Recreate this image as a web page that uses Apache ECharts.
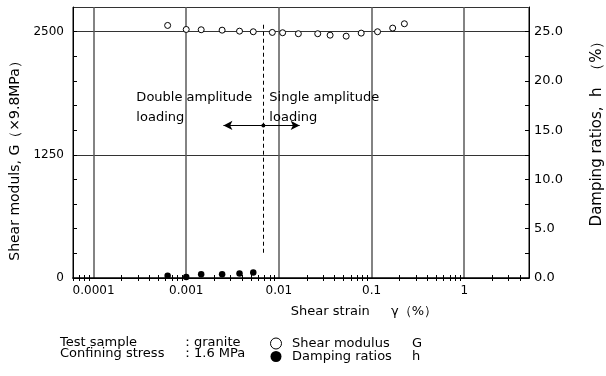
<!DOCTYPE html>
<html><head><meta charset="utf-8">
<script src="https://cdn.jsdelivr.net/npm/echarts@6/dist/echarts.min.js"></script>
<style>html,body{margin:0;padding:0;background:#fff}#c{width:606px;height:376px}</style>
</head><body><div id="c"></div>
<script>
// ---- data ----
const strain = [0.00063, 0.0010, 0.00145, 0.00244, 0.00376, 0.00529, 0.00849, 0.01097, 0.01622, 0.02624, 0.0357, 0.0532, 0.0773, 0.116, 0.169, 0.226];
const shearModulus = [2563, 2522, 2519, 2515, 2505, 2499, 2492, 2489, 2479, 2479, 2464, 2454, 2485, 2499, 2536, 2580];
const dampingStrain = [0.00063, 0.0010, 0.00145, 0.00244, 0.00376, 0.00529];
const dampingRatio = [0.24, 0.10, 0.38, 0.38, 0.45, 0.55];
const xLabelValues = [0.0001, 0.001, 0.01, 0.1, 1];
const xMinorTicks = [0.00006, 0.00007, 0.00008, 0.00009,
  0.0002, 0.0003, 0.0004, 0.0005, 0.0006, 0.0007, 0.0008, 0.0009,
  0.002, 0.003, 0.004, 0.005, 0.006, 0.007, 0.008, 0.009,
  0.02, 0.03, 0.04, 0.05, 0.06, 0.07, 0.08, 0.09,
  0.2, 0.3, 0.4, 0.5, 0.6, 0.7, 0.8, 0.9,
  2, 3, 4];
const gTickValues = [250, 500, 750, 1000, 1250, 1500, 1750, 2000, 2250, 2500];
const gLabelValues = [0, 1250, 2500];
const hTickValues = [2.5, 5, 7.5, 10, 12.5, 15, 17.5, 20, 22.5, 25];
const hLabelValues = [0, 5, 10, 15, 20, 25];
const boundaryStrain = 0.0068;
const boundaryRange = [234, 2570];
const arrowRange = [0.00252, 0.01675];
const arrowLevel = 1548;
const noteLevel = 1733;

const FONT = '"DejaVu Sans", sans-serif';
const X_MIN = 0.00006, X_MAX = 5, G_MAX = 2750, H_MAX = 27.5;

const chart = echarts.init(document.getElementById('c'), null, {renderer: 'canvas'});
const gridBox = {left: 73, right: 77, top: 7, bottom: 98, outerBoundsMode: 'none'};

const option = {
  animation: false,
  backgroundColor: '#fff',
  textStyle: {fontFamily: FONT, color: '#000'},
  grid: [Object.assign({}, gridBox), Object.assign({}, gridBox)],
  xAxis: [
    { type: 'log', gridIndex: 0, position: 'bottom', min: X_MIN, max: X_MAX,
      axisLine: {show: true, lineStyle: {color: '#000', width: 1.5}},
      axisTick: {show: true, inside: true, length: 3, customValues: xMinorTicks, lineStyle: {color: '#000'}},
      axisLabel: {show: true, customValues: xLabelValues, margin: 7, fontSize: 12, fontFamily: FONT, color: '#000',
        formatter: v => String(v)},
      splitLine: {show: false},
      name: 'Shear strain\u3000  γ（%）', nameLocation: 'middle', nameGap: 27,
      nameTextStyle: {fontSize: 13, fontFamily: FONT, color: '#000', padding: [0, 0, 0, 126]}
    },
    { type: 'log', gridIndex: 0, position: 'top', min: X_MIN, max: X_MAX,
      axisLine: {show: true, lineStyle: {color: '#000', width: 1}},
      axisTick: {show: true, inside: true, length: 3, customValues: xMinorTicks, lineStyle: {color: '#000'}},
      axisLabel: {show: false}, splitLine: {show: false}
    },
    { type: 'log', gridIndex: 1, position: 'bottom', min: X_MIN, max: X_MAX,
      axisLine: {show: false}, axisTick: {show: false}, axisLabel: {show: false},
      splitLine: {show: true, lineStyle: {color: '#5a5a5a', width: 1.5}}
    }
  ],
  yAxis: [
    { type: 'value', gridIndex: 0, position: 'left', min: 0, max: G_MAX,
      axisLine: {show: true, lineStyle: {color: '#000', width: 1}},
      axisTick: {show: true, inside: true, length: 4, customValues: gTickValues, lineStyle: {color: '#000'}},
      axisLabel: {show: true, customValues: gLabelValues, margin: 9, fontSize: 12, fontFamily: FONT, color: '#000',
        formatter: v => String(v)},
      splitLine: {show: false},
      name: 'Shear moduls, G（×9.8MPa）', nameLocation: 'middle', nameGap: 44,
      nameTextStyle: {fontSize: 14, fontFamily: FONT, color: '#000', padding: [0, 30, 0, 0]}
    },
    { type: 'value', gridIndex: 0, position: 'right', min: 0, max: H_MAX,
      axisLine: {show: true, lineStyle: {color: '#000', width: 1}},
      axisTick: {show: true, inside: true, length: 4, customValues: hTickValues, lineStyle: {color: '#000'}},
      axisLabel: {show: true, customValues: hLabelValues, margin: 5, fontSize: 13, fontFamily: FONT, color: '#000',
        formatter: v => v.toFixed(1)},
      splitLine: {show: false},
      name: 'Damping ratios,  h  （%）', nameLocation: 'middle', nameGap: 61,
      nameTextStyle: {fontSize: 15, fontFamily: FONT, color: '#000', padding: [0, 0, 0, 25]}
    },
    { type: 'value', gridIndex: 1, min: 0, max: G_MAX, interval: 1250,
      axisLine: {show: false}, axisTick: {show: false}, axisLabel: {show: false},
      splitLine: {show: true, lineStyle: {color: '#333', width: 1}}
    }
  ],
  legend: {
    orient: 'vertical', left: 270, top: 337, padding: 0, itemGap: 0,
    itemWidth: 22, itemHeight: 11, selectedMode: false,
    data: [
      {name: 'Shear modulus G', icon: 'circle', itemStyle: {color: '#fff', borderColor: '#000', borderWidth: 1, opacity: 1}},
      {name: 'Damping ratios h', icon: 'circle', itemStyle: {color: '#000', borderWidth: 0, opacity: 1}}
    ],
    formatter: name => {
      const i = name.lastIndexOf(' ');
      return '{a|' + name.slice(0, i) + '}{b|' + name.slice(i + 1) + '}';
    },
    textStyle: {
      fontFamily: FONT, fontSize: 13, color: '#000', lineHeight: 11,
      rich: {a: {width: 120, fontFamily: FONT, fontSize: 13, lineHeight: 11}, b: {fontFamily: FONT, fontSize: 13, lineHeight: 11}}
    }
  },
  graphic: [
    {type: 'text', x: 60, y: 342.5, style: {text: 'Test sample', font: '13px ' + FONT, fill: '#000', verticalAlign: 'middle'}},
    {type: 'text', x: 60, y: 353.7, style: {text: 'Confining stress', font: '13px ' + FONT, fill: '#000', verticalAlign: 'middle'}},
    {type: 'text', x: 181, y: 342.5, style: {text: '：granite', font: '13px ' + FONT, fill: '#000', verticalAlign: 'middle'}},
    {type: 'text', x: 181, y: 353.7, style: {text: '：1.6 MPa', font: '13px ' + FONT, fill: '#000', verticalAlign: 'middle'}}
  ],
  series: [
    { type: 'scatter', name: 'Shear modulus G', xAxisIndex: 0, yAxisIndex: 0,
      data: strain.map((s, i) => [s, shearModulus[i]]),
      symbol: 'circle', symbolSize: 6,
      itemStyle: {color: '#fff', borderColor: '#000', borderWidth: 1, opacity: 1},
      z: 5,
      markLine: {
        silent: true, animation: false, label: {show: false},
        data: [
          [{coord: [boundaryStrain, boundaryRange[1]], symbol: 'none'},
           {coord: [boundaryStrain, boundaryRange[0]], symbol: 'none'}],
          [{coord: [arrowRange[0], arrowLevel], symbol: 'arrow', symbolSize: [7, 9], lineStyle: {type: 'solid', color: '#000', width: 1}},
           {coord: [arrowRange[1], arrowLevel], symbol: 'arrow', symbolSize: [7, 9]}]
        ],
        lineStyle: {type: [4, 3], color: '#000', width: 1, opacity: 1},
        emphasis: {disabled: true}
      },
      markPoint: {
        silent: true, animation: false,
        data: [
          {coord: [boundaryStrain, arrowLevel], symbol: 'circle', symbolSize: 4, itemStyle: {color: '#000', borderWidth: 0}, label: {show: false}},
          {coord: [boundaryStrain, noteLevel], symbol: 'circle', symbolSize: 0,
            label: {show: true, position: 'inside', align: 'left', verticalAlign: 'middle', offset: [6, 0],
              formatter: 'Single amplitude\nloading', fontSize: 13, lineHeight: 20, fontFamily: FONT, color: '#000'}},
          {coord: [boundaryStrain, noteLevel], symbol: 'circle', symbolSize: 0,
            label: {show: true, position: 'inside', align: 'left', verticalAlign: 'middle', offset: [-127, 0],
              formatter: 'Double amplitude\nloading', fontSize: 13, lineHeight: 20, fontFamily: FONT, color: '#000'}}
        ]
      }
    },
    { type: 'scatter', name: 'Damping ratios h', xAxisIndex: 0, yAxisIndex: 1,
      data: dampingStrain.map((s, i) => [s, dampingRatio[i]]),
      symbol: 'circle', symbolSize: 6.5,
      itemStyle: {color: '#000', opacity: 1}, z: 5
    }
  ]
};
chart.setOption(option);
</script>
</body></html>
